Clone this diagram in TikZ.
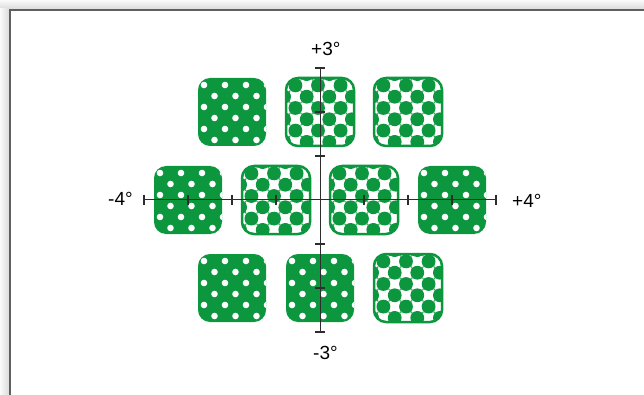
\documentclass[tikz,border=0pt]{standalone}
\usepackage{fontspec}
\setmainfont{Liberation Sans}
\usepackage{xcolor}

\definecolor{tilegreen}{RGB}{12,150,62}
\definecolor{axisgray}{RGB}{45,45,45}
\definecolor{framegray}{RGB}{95,95,95}

\tikzset{
  tile/.style={minimum size=68pt, inner sep=0pt, rounded corners=12pt},
  % white dots on green, staggered rows
  dottile/.style={tile, fill=tilegreen, path picture={
      \begin{scope}[shift={(path picture bounding box.center)}]
        \foreach \a in {-2,...,2}
          \foreach \b in {-2,...,2} {
            \fill[white] (21*\a-7,22*\b-5) circle (3.3pt);
            \fill[white] (21*\a+3.5,22*\b+6) circle (3.3pt);
          }
      \end{scope}}},
  % green discs on a checkerboard
  checktile/.style={tile, fill=white, draw=tilegreen, line width=2.5pt, path picture={
      \begin{scope}[shift={(path picture bounding box.center)}]
        \foreach \cx/\cy in {-2/-4, 9.3/7.3}
          \foreach \a in {-2,...,2}
            \foreach \b in {-2,...,2} {
              \fill[tilegreen] (22.6*\a+\cx,22.6*\b+\cy) circle (6.9pt);
              \fill[tilegreen] (22.6*\a+\cx-5.65,22.6*\b+\cy-5.65) rectangle ++(11.3,11.3);
            }
      \end{scope}}},
  axisline/.style={axisgray, line width=1pt},
  tickmark/.style={axisgray, line width=1.8pt},
  deglabel/.style={anchor=west, inner sep=0pt, text=black, font=\fontsize{19}{22}\selectfont}
}

\begin{document}
\begin{tikzpicture}[x=1pt, y=-1pt]
    \useasboundingbox (0,0) rectangle (644,395);

    % Frame with shadow
    \shade[top color=gray!4, bottom color=gray!28] (0,0) rectangle (644,9);
    \shade[left color=gray!4, right color=gray!28] (0,9) rectangle (9,395);
    \draw[framegray, line width=2pt] (10,395) -- (10,10) -- (644,10);

    % Top row
    \node[dottile] (t1) at (232,112) {};
    \node[checktile] (t2) at (320,112) {};
    \node[checktile] (t3) at (408,112) {};

    % Middle row
    \node[dottile] (m1) at (188,200) {};
    \node[checktile] (m2) at (276,200) {};
    \node[checktile] (m3) at (364,200) {};
    \node[dottile] (m4) at (452,200) {};

    % Bottom row
    \node[dottile] (b1) at (232,288) {};
    \node[dottile] (b2) at (320,288) {};
    \node[checktile] (b3) at (408,288) {};

    % Axes
    \coordinate (xmin) at (144,200);
    \coordinate (xmax) at (496,200);
    \coordinate (ymin) at (320,68);
    \coordinate (ymax) at (320,332);
    \draw[axisline] (xmin) -- (xmax);
    \draw[axisline] (ymin) -- (ymax);

    % Ticks, one per degree
    \foreach \k in {-4,...,-1,1,2,3,4}
        \draw[tickmark] (320+44*\k,195) -- (320+44*\k,205);
    \foreach \k in {-3,...,-1,1,2,3}
        \draw[tickmark] (315,200+44*\k) -- (325,200+44*\k);

    % Labels
    \node[deglabel] (up) at (311,49) {+3°};
    \node[deglabel] (down) at (313,353) {-3°};
    \node[deglabel] (left) at (108,199) {-4°};
    \node[deglabel] (right) at (512,201) {+4°};
\end{tikzpicture}
\end{document}
